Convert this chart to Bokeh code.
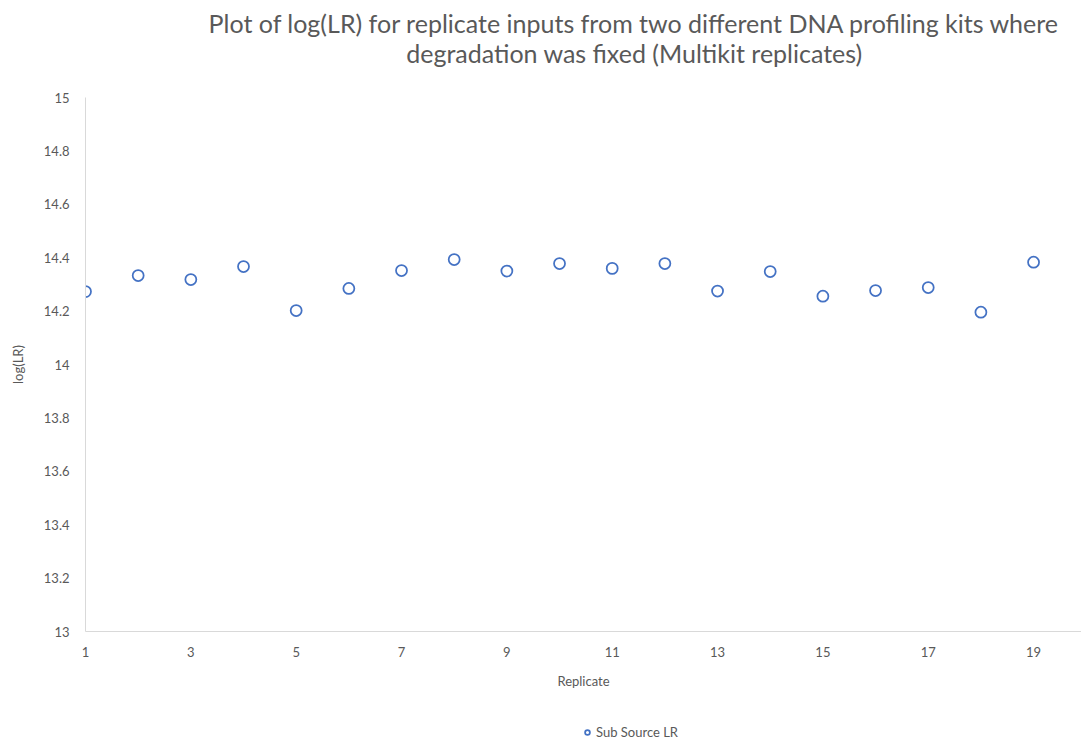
from bokeh.plotting import figure
from bokeh.layouts import column
from bokeh.models import Range1d, FixedTicker, Legend, LegendItem, Label
from bokeh.embed import file_html
from bokeh.resources import INLINE

replicates = list(range(1, 20))
log_lr = [14.273, 14.333, 14.318, 14.367, 14.202, 14.285, 14.352, 14.393, 14.350,
          14.378, 14.360, 14.378, 14.275, 14.348, 14.256, 14.277, 14.288, 14.196, 14.383]
x_ticks = [1, 3, 5, 7, 9, 11, 13, 15, 17, 19]
y_ticks = [13, 13.2, 13.4, 13.6, 13.8, 14, 14.2, 14.4, 14.6, 14.8, 15]
series_name = "Sub Source LR"
title_line1 = "Plot of log(LR) for replicate inputs from two different DNA profiling kits where"
title_line2 = "degradation was fixed (Multikit replicates)"

FONT = "Lato"
GREY = "#595959"
MARKER = dict(marker="circle", size=11, fill_color="white", line_color="#4472c4", line_width=1.75)


def bare(fig):
    fig.outline_line_color = None
    fig.grid.visible = False
    return fig


# --- title strip ---
top = bare(figure(width=1081, height=89, output_backend="svg", toolbar_location=None,
                  x_range=Range1d(0, 1), y_range=Range1d(0, 1),
                  x_axis_location=None, y_axis_location=None,
                  min_border_left=0, min_border_right=0, min_border_top=0, min_border_bottom=0))
for txt, yy in ((title_line1, 67), (title_line2, 37)):
    top.add_layout(Label(x=549, y=yy, x_units="screen", y_units="screen", text=txt,
                         text_font=FONT, text_font_size="25px", text_color=GREY,
                         text_align="center", text_baseline="middle"))

# --- main chart ---
p = bare(figure(frame_width=996, frame_height=534, output_backend="svg", toolbar_location=None,
                x_range=Range1d(1, 19.91), y_range=Range1d(13, 15), title=None,
                min_border_left=85, min_border_right=0, min_border_top=8, min_border_bottom=60))

for ax in (p.xaxis[0], p.yaxis[0]):
    ax.axis_line_color = "#d9d9d9"
    ax.axis_line_width = 1
    ax.major_tick_line_color = None
    ax.minor_tick_line_color = None
    ax.major_tick_out = 0
    ax.major_tick_in = 0
    ax.minor_tick_out = 0
    ax.major_label_text_font = FONT
    ax.major_label_text_font_size = "13px"
    ax.major_label_text_color = GREY
    ax.axis_label_text_font = FONT
    ax.axis_label_text_font_size = "13px"
    ax.axis_label_text_font_style = "normal"
    ax.axis_label_text_color = GREY

p.xaxis.ticker = FixedTicker(ticks=x_ticks)
p.yaxis.ticker = FixedTicker(ticks=y_ticks)
p.yaxis.major_label_overrides = {13: "13", 14: "14", 15: "15"}
p.xaxis.axis_label = "Replicate"
p.yaxis.axis_label = "log(LR)"
p.xaxis.major_label_standoff = 15
p.xaxis.axis_label_standoff = 13
p.yaxis.major_label_standoff = 16
p.yaxis.axis_label_standoff = 15

p.scatter(replicates, log_lr, **MARKER)

# --- legend strip ---
bot = bare(figure(width=1081, height=49, output_backend="svg", toolbar_location=None,
                  x_range=Range1d(1, 19.91), y_range=Range1d(13, 15),
                  x_axis_location=None, y_axis_location=None,
                  min_border_left=0, min_border_right=0, min_border_top=0, min_border_bottom=0))
r2 = bot.scatter(replicates, log_lr, visible=False, **MARKER)
legend = Legend(items=[LegendItem(label=series_name, renderers=[r2])],
                orientation="horizontal", location=(496, 0),
                label_text_font=FONT, label_text_font_size="13px", label_text_color=GREY,
                border_line_color=None, background_fill_alpha=0, inactive_fill_alpha=0,
                glyph_width=12, glyph_height=12, label_height=16, label_standoff=3,
                padding=0, margin=0, click_policy="none")
bot.add_layout(legend, "center")

layout = column(top, p, bot, spacing=0)
open("out.html", "w").write(file_html(layout, INLINE))
